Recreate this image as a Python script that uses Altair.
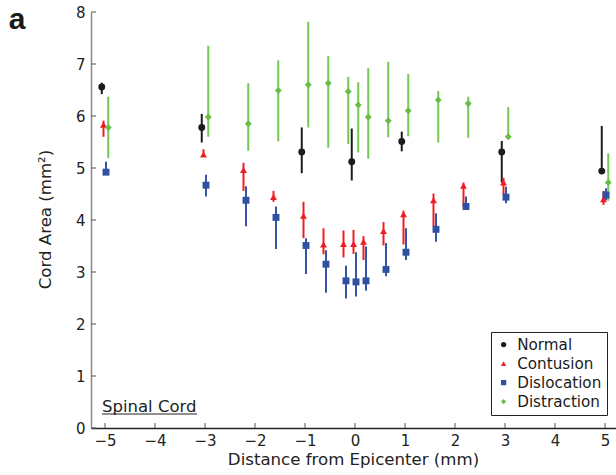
import altair as alt
import pandas as pd

# Measurement positions along the cord (mm from epicenter)
distances = [-5, -3, -2.2, -1.6, -1, -0.6, -0.2, 0, 0.2, 0.6, 1, 1.6, 2.2, 3, 5]
normal_distances = [-5, -3, -1, 0, 1, 3, 5]

# Cord area (mm^2): mean with lower / upper end of the error bar
normal_mean = [6.56, 5.78, 5.31, 5.12, 5.51, 5.31, 4.94]
normal_lo = [6.42, 5.49, 4.90, 4.76, 5.32, 4.72, 4.94]
normal_hi = [6.64, 6.04, 5.78, 5.76, 5.70, 5.52, 5.81]

contusion_mean = [5.83, 5.26, 4.96, 4.44, 4.08, 3.53, 3.54, 3.54, 3.58, 3.79, 4.11, 4.38, 4.66, 4.72, 4.40]
contusion_lo = [5.60, 5.22, 4.56, 4.35, 3.65, 3.34, 3.28, 3.35, 3.23, 3.51, 3.53, 3.88, 4.26, 4.48, 4.29]
contusion_hi = [5.91, 5.36, 5.10, 4.56, 4.35, 3.84, 3.80, 3.81, 3.69, 3.96, 4.18, 4.51, 4.72, 4.81, 4.56]

dislocation_mean = [4.92, 4.67, 4.38, 4.05, 3.51, 3.15, 2.83, 2.81, 2.83, 3.05, 3.38, 3.82, 4.26, 4.44, 4.48]
dislocation_lo = [4.92, 4.45, 3.88, 3.44, 2.96, 2.60, 2.49, 2.53, 2.64, 2.92, 3.23, 3.58, 4.19, 4.32, 4.38]
dislocation_hi = [5.12, 4.87, 4.65, 4.26, 3.65, 3.42, 3.12, 3.38, 3.49, 3.56, 3.84, 4.13, 4.45, 4.64, 4.61]

distraction_mean = [5.78, 5.98, 5.85, 6.49, 6.60, 6.63, 6.47, 6.21, 5.98, 5.91, 6.10, 6.31, 6.24, 5.60, 4.72]
distraction_lo = [5.19, 5.60, 5.33, 5.51, 5.78, 5.39, 5.46, 5.30, 5.18, 5.59, 5.61, 5.49, 5.58, 5.60, 4.37]
distraction_hi = [6.37, 7.35, 6.63, 7.07, 7.81, 7.15, 6.75, 6.65, 6.92, 7.04, 6.81, 6.48, 6.37, 6.17, 5.28]

groups = ["Normal", "Contusion", "Dislocation", "Distraction"]
colors = ["#1c1c1c", "#ee1d25", "#2f50a3", "#68bd45"]
bar_colors = ["#1c1c1c", "#ee1d25", "#3556a6", "#74c655"]
shapes = ["circle", "triangle-up", "square", "diamond"]
# small horizontal dodge so the groups do not sit on top of each other
dodge = [-0.065, -0.03, 0.02, 0.065]

series = [
    (normal_distances, normal_mean, normal_lo, normal_hi),
    (distances, contusion_mean, contusion_lo, contusion_hi),
    (distances, dislocation_mean, dislocation_lo, dislocation_hi),
    (distances, distraction_mean, distraction_lo, distraction_hi),
]

rows = []
for gi, (name, (pos, mean, lo, hi)) in enumerate(zip(groups, series)):
    for d, m, l, h in zip(pos, mean, lo, hi):
        rows.append({"group": name, "order": gi, "x": d + dodge[gi], "mean": m, "lo": l, "hi": h})
df = pd.DataFrame(rows)

FONT = "DejaVu Sans"
W, H = 525, 416

xscale = alt.Scale(domain=[-5.28, 5.22], nice=False, zero=False)
yscale = alt.Scale(domain=[0, 8], nice=False, zero=False)

x_axis = alt.Axis(
    values=list(range(-5, 6)), title="Distance from Epicenter (mm)", ticks=False, grid=False,
    domainColor="#222222", domainWidth=1.5, labelFont=FONT, labelFontSize=15, labelColor="#222222",
    labelPadding=5, labelFlush=False, labelOverlap=False,
    titleFont=FONT, titleFontSize=16.6, titleFontWeight="normal", titleColor="#222222",
    titleX=262, titleY=36, titleBaseline="alphabetic", titleAlign="center",
)
y_axis = alt.Axis(
    values=list(range(0, 9)), title="Cord Area (mm²)", ticks=False, grid=False,
    domainColor="#8a8a8a", domainWidth=1.5, labelFont=FONT, labelFontSize=15, labelColor="#222222",
    labelPadding=6, labelFlush=False, labelOverlap=False,
    titleFont=FONT, titleFontSize=16.6, titleFontWeight="normal", titleColor="#222222",
    titleX=-41, titleY=207, titleBaseline="alphabetic", titleAlign="center", titleAngle=270,
)

# one error-bar layer per group, each in its own colour
bar_layers = []
for name, col in zip(groups, bar_colors):
    bar_layers.append(
        alt.Chart(df).transform_filter(alt.datum.group == name).mark_rule(strokeWidth=2, color=col).encode(
            x=alt.X("x:Q", scale=xscale, axis=x_axis),
            y=alt.Y("lo:Q", scale=yscale, axis=y_axis),
            y2="hi:Q",
        )
    )

points = alt.Chart(df).mark_point(filled=True, opacity=1, size=48).encode(
    x=alt.X("x:Q", scale=xscale, axis=x_axis),
    y=alt.Y("mean:Q", scale=yscale, axis=y_axis),
    color=alt.Color("group:N", scale=alt.Scale(domain=groups, range=colors), title=None),
    shape=alt.Shape("group:N", scale=alt.Scale(domain=groups, range=shapes), title=None),
    order=alt.Order("order:Q"),
)

# inward-pointing tick marks
x_ticks = alt.Chart(pd.DataFrame({"v": list(range(-5, 6))})).mark_rule(color="#555555", strokeWidth=1).encode(
    x=alt.X("v:Q", scale=xscale, axis=x_axis),
    y=alt.value(H),
    y2=alt.value(H - 5),
)
y_ticks = alt.Chart(pd.DataFrame({"v": list(range(0, 9))})).mark_rule(color="#555555", strokeWidth=1).encode(
    y=alt.Y("v:Q", scale=yscale, axis=y_axis),
    x=alt.value(0),
    x2=alt.value(5),
)

note = pd.DataFrame({"t": ["Spinal Cord"]})
spinal_text = alt.Chart(note).mark_text(
    font=FONT, fontSize=16.5, color="#222222", align="left", baseline="alphabetic"
).encode(text="t:N", x=alt.value(11), y=alt.value(400))
spinal_line = alt.Chart(note).mark_rule(color="#222222", strokeWidth=1.2).encode(
    x=alt.value(11), x2=alt.value(106), y=alt.value(402), y2=alt.value(402)
)

panel = pd.DataFrame({"t": ["a"]})
panel_label = alt.Chart(panel).mark_text(
    font="Liberation Sans", fontSize=30, fontWeight="bold", color="#1a1a1a", align="center", baseline="alphabetic"
).encode(text="t:N", x=alt.value(-74), y=alt.value(17))

chart = (
    alt.layer(*bar_layers, points, x_ticks, y_ticks, spinal_text, spinal_line, panel_label)
    .properties(
        width=W, height=H,
        padding={"left": 91, "top": 12, "right": 0, "bottom": 47},
        autosize=alt.AutoSizeParams(type="none"),
    )
    .configure(background="white", font=FONT)
    .configure_view(stroke=None)
    .configure_legend(
        orient="none", legendX=400, legendY=320,
        labelFont=FONT, labelFontSize=15.2, labelColor="#1a1a1a",
        symbolSize=28, rowPadding=3, labelOffset=6, symbolStrokeWidth=0,
        strokeColor="#222222", fillColor="white", padding=5, strokeWidth=1, cornerRadius=0,
    )
)

chart.save("out.html", embed_options={"renderer": "svg", "actions": False})
